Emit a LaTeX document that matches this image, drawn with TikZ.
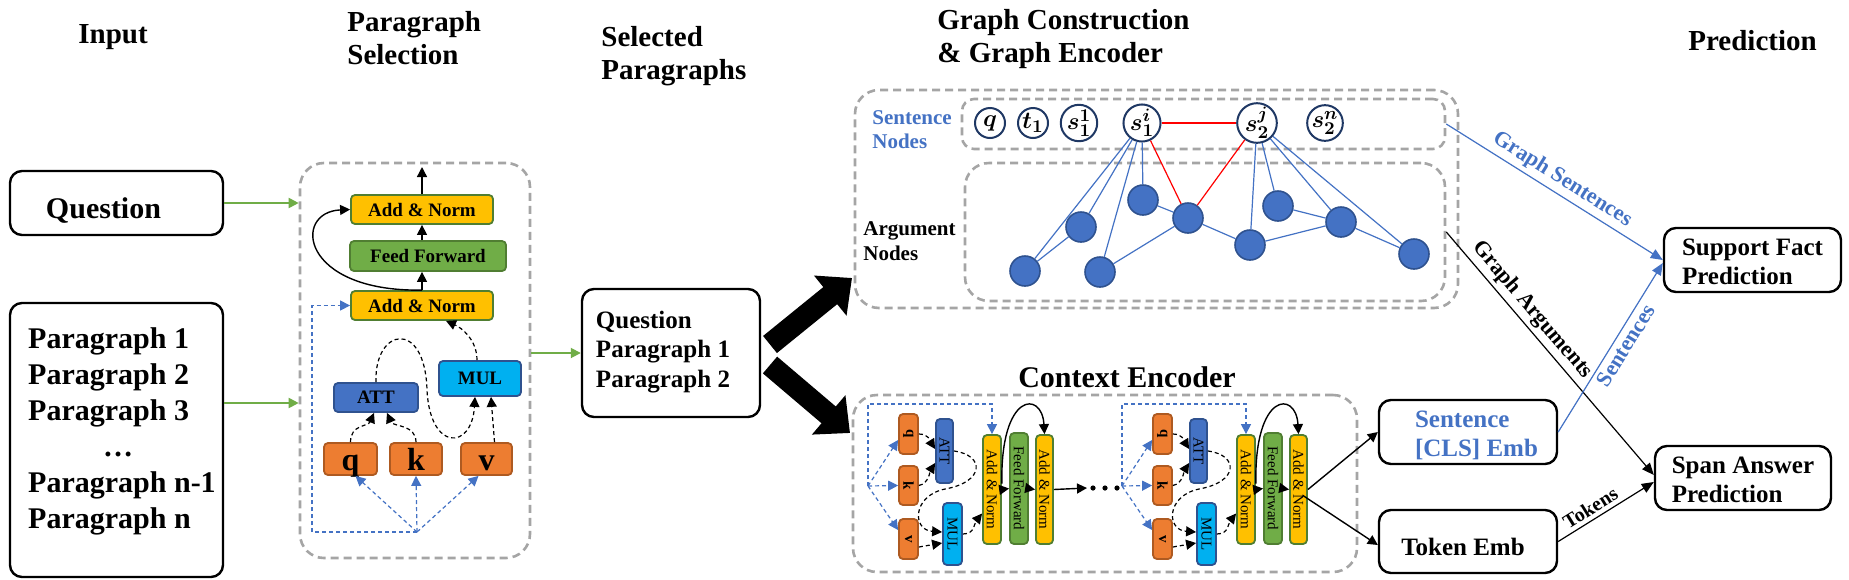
\documentclass[tikz,border=0pt]{standalone}
\usepackage{fontspec}
\setmainfont{Liberation Serif}
\usepackage{amsmath}
\usepackage{bm}
\usepackage{graphicx}
\usetikzlibrary{arrows.meta,calc}
\definecolor{anfill}{HTML}{FFC000}
\definecolor{grnb}{HTML}{507E32}
\definecolor{fffill}{HTML}{70AD47}
\definecolor{orf}{HTML}{ED7D31}
\definecolor{orb}{HTML}{AE5A21}
\definecolor{blf}{HTML}{4472C4}
\definecolor{blb}{HTML}{2F528F}
\definecolor{cyf}{HTML}{00B0F0}
\definecolor{grayd}{HTML}{A5A5A5}
\definecolor{navy}{HTML}{1F3864}
\definecolor{arrg}{HTML}{70AD47}
\newcommand\fsz[2]{\fontsize{#1}{#2}\selectfont}
\newcommand\bx[7]{%
  \pgfmathsetmacro\bxw{0.5*((#4)-(#2))}%
  \pgfmathsetmacro\bxh{0.5*((#5)-(#3))}%
  \node[inner sep=0pt, minimum width=\bxw pt, minimum height=\bxh pt, #6] (#1) at ({((#2)+(#4))/2},{((#3)+(#5))/2}) {#7};}
\newcommand\vbx[8]{\bx{#1}{#2}{#3}{#4}{#5}{#6}{}\node[rotate=-90, inner sep=0pt, #7] (#1-t) at (#1.center) {#8};}
\newcommand\lt[1]{\begin{tabular}[t]{@{}l@{}}#1\end{tabular}}
\tikzset{
  hdr/.style={font=\bfseries\fsz{14.5pt}{16.5pt}, inner sep=0pt, align=left},
  blk/.style={draw=black, line width=1.2pt, rounded corners=6pt, fill=white, font=\bfseries\fsz{15pt}{18pt}},
  blkm/.style={draw=black, line width=1.2pt, rounded corners=6pt, fill=white, font=\bfseries\fsz{12.5pt}{14.75pt}},
  gbox/.style={draw=grayd, line width=1.3pt, dash pattern=on 4pt off 2.5pt, rounded corners=12pt},
  gboxs/.style={draw=grayd, line width=1.3pt, dash pattern=on 4pt off 2.5pt, rounded corners=6pt},
  anb/.style={draw=grnb, fill=anfill, line width=0.9pt, rounded corners=2pt},
  ffb/.style={draw=grnb, fill=fffill, line width=0.9pt, rounded corners=2pt},
  qkvb/.style={draw=orb, fill=orf, line width=0.9pt, rounded corners=2pt},
  attb/.style={draw=blb, fill=blf, line width=0.9pt, rounded corners=2pt},
  mulb/.style={draw=blb, fill=cyf, line width=0.9pt, rounded corners=2pt},
  bigtxt/.style={font=\bfseries\fsz{9.5pt}{11pt}},
  qkvtxt/.style={font=\bfseries\fsz{16pt}{16pt}, text height=11pt, text depth=0pt},
  vtxt/.style={font=\fsz{7.5pt}{9pt}},
  vqkv/.style={font=\bfseries\fsz{7.5pt}{9pt}},
  ktip/.style={-{Triangle[length=5pt,width=5pt]}},
  karr/.style={draw=black, line width=0.7pt, ktip},
  kdash/.style={draw=black, line width=0.6pt, dash pattern=on 2pt off 1.5pt, ktip},
  bdash/.style={draw=blf, line width=0.6pt, dash pattern=on 2pt off 1.5pt},
  btip/.style={-{Triangle[length=5pt,width=5pt,fill=blf]}},
  garr/.style={draw=arrg, line width=0.9pt, -{Triangle[length=5pt,width=5pt]}},
  bigarr/.style={draw=black, line width=11pt, -{Triangle[length=14pt,width=25pt]}},
  snode/.style={circle, draw=navy, line width=1pt, fill=white, minimum size=15pt, inner sep=0pt, font=\fsz{13pt}{13pt}},
  anode/.style={circle, draw=blb, fill=blf, line width=0.8pt, minimum size=15pt, inner sep=0pt},
  bedge/.style={draw=blf, line width=0.6pt},
  redge/.style={draw=red, line width=0.6pt},
  lbl/.style={font=\bfseries\fsz{11pt}{12pt}, inner sep=2pt},
  outarr/.style={line width=0.6pt, -{Triangle[length=6pt,width=5pt]}},
  dotn/.style={circle, fill=black, inner sep=0pt, minimum size=2.6pt},
}
\begin{document}
\begin{tikzpicture}[x=0.5pt,y=-0.5pt]
\fill[white] (0,0) rectangle (1849,579);
\useasboundingbox (0,0) rectangle (1849,579);
% ---------- headers
\node[hdr, anchor=base west] (hinput) at (78,43) {Input};
\node[hdr, anchor=north west] (hpsel) at (347,11) {Paragraph\\Selection};
\node[hdr, anchor=north west] (hsel) at (601,26) {Selected\\Paragraphs};
\node[hdr, anchor=north west] (hgraph) at (937,9) {Graph Construction\\\& Graph Encoder};
\node[hdr, anchor=base west] (hpred) at (1688,50) {Prediction};
% ---------- input
\bx{qbox}{10}{171}{223}{235}{blk, text height=20pt, text depth=5pt}{Question\hspace*{13pt}}
\bx{pbox}{10}{303}{223}{577}{blk, text height=10pt, text depth=102pt}{\hspace*{5.5pt}\lt{Paragraph 1\\Paragraph 2\\Paragraph 3\\\hspace*{2.5em}\dots\\Paragraph n-1\\Paragraph n}}
% ---------- paragraph selection
\bx{psel}{300}{163}{530}{558}{gbox}{}
\bx{an2}{351}{195}{493}{224}{anb,bigtxt}{Add \& Norm}
\bx{ff}{350}{241}{506}{271}{ffb,bigtxt}{Feed Forward}
\bx{an1}{351}{291}{493}{320}{anb,bigtxt}{Add \& Norm}
\bx{att}{334}{383}{418}{412}{attb,bigtxt}{ATT}
\bx{mul}{439}{361}{521}{396}{mulb,bigtxt}{MUL}
\bx{q}{324}{443}{377}{475}{qkvb,qkvtxt}{q}
\bx{k}{390}{443}{442}{475}{qkvb,qkvtxt}{k}
\bx{v}{461}{443}{512}{475}{qkvb,qkvtxt}{v}
\coordinate (pout) at (422,167);
\draw[karr] (an2.north) -- (pout);
\draw[karr] (an1.north) -- (an1.north |- ff.south);
\draw[karr] (an2.south |- ff.north) -- (an2.south);
\draw[karr] (an1.north) .. controls (300,292) and (292,212) .. (an2.west);
\coordinate (hub) at (417,532);
\coordinate (hubl) at (312,532);
\draw[bdash,btip] (hub) -- (hubl) |- (an1.west);
\draw[bdash,btip] (hub) -- ([xshift=2.5pt]q.south);
\draw[bdash,btip] (hub) -- (k.south);
\draw[bdash,btip] (hub) -- ([xshift=-4pt]v.south);
\draw[kdash] (q.north) .. controls +(0,-18) and +(-6,14) .. ([xshift=-1pt]att.south);
\draw[kdash] (k.north) .. controls +(0,-18) and +(6,14) .. ([xshift=5.5pt]att.south);
\draw[kdash] ([xshift=4pt]v.north) -- ([xshift=5.5pt]mul.south);
\draw[kdash] (att.north) .. controls (374,328) and (425,318) .. (427,390) .. controls (430,452) and (472,450) .. ([xshift=-2.5pt]mul.south);
\draw[kdash] ([xshift=-1.5pt]mul.north) .. controls (477,340) and (462,328) .. ([xshift=12pt]an1.south);
% ---------- selected paragraphs
\bx{sel}{582}{289}{760}{417}{blkm, text height=10pt, text depth=35pt}{\lt{Question\\Paragraph 1\\Paragraph 2}\hspace*{8pt}}
\draw[garr] (qbox.east) -- (qbox.east -| psel.west);
\draw[garr] ([yshift=18.5pt]pbox.east) -- ([yshift=18.5pt]pbox.east -| psel.west);
\draw[garr] (psel.east |- sel.west) -- (sel.west);
\coordinate (bga) at (770,344.5);
\coordinate (bgb) at (852,278);
\coordinate (bca) at (770,365);
\coordinate (bcb) at (850,433);
\draw[bigarr] (bga) -- (bgb);
\draw[bigarr] (bca) -- (bcb);
% ---------- graph
\bx{gout}{855}{90}{1458}{308}{gbox}{}
\bx{snbox}{962}{99}{1445}{149}{gboxs}{}
\bx{argbox}{965}{163}{1445}{301}{gbox}{}
\node[anchor=north west, inner sep=0pt, align=left, text=blf, font=\bfseries\fsz{10.5pt}{12pt}] (snlab) at (872,110) {Sentence\\Nodes};
\node[anchor=north west, inner sep=0pt, align=left, font=\bfseries\fsz{10.5pt}{12.5pt}] (arglab) at (863,221) {Argument\\Nodes};
\node[snode] (sq) at (990,123) {$\bm{q}$};
\node[snode] (st) at (1033,123) {$\bm{t}_{\bm{1}}$};
\node[snode] (s11) at (1079,123) {$\bm{s}_{\bm{1}}^{\bm{1}}$};
\node[snode] (s1i) at (1142,123) {$\bm{s}_{\bm{1}}^{\bm{i}}$};
\node[snode] (s2j) at (1257,123) {$\bm{s}_{\bm{2}}^{\bm{j}}$};
\node[snode] (s2n) at (1325,123) {$\bm{s}_{\bm{2}}^{\bm{n}}$};
\node[anode] (a1) at (1025,271) {};
\node[anode] (a2) at (1081,227) {};
\node[anode] (a3) at (1100,272) {};
\node[anode] (a4) at (1143,200) {};
\node[anode] (a5) at (1188,218) {};
\node[anode] (a6) at (1250,245) {};
\node[anode] (a7) at (1278,206) {};
\node[anode] (a8) at (1341,222) {};
\node[anode] (a9) at (1414,254) {};
\foreach \t in {a1,a2,a3,a4} \draw[bedge] (s1i) -- (\t);
\foreach \t in {a6,a7,a8,a9} \draw[bedge] (s2j) -- (\t);
\draw[bedge] (a1) -- (a2);
\draw[bedge] (a3) -- (a5);
\draw[bedge] (a4) -- (a5);
\draw[bedge] (a5) -- (a6);
\draw[bedge] (a6) -- (a8);
\draw[bedge] (a7) -- (a8);
\draw[bedge] (a8) -- (a9);
\draw[redge] (s1i) -- (s2j);
\draw[redge] (s1i) -- (a5);
\draw[redge] (s2j) -- (a5);
% ---------- context encoder
\node[anchor=base, inner sep=0pt, font=\bfseries\fsz{15pt}{16pt}] (hctx) at (1127,387) {Context Encoder};
\bx{cout}{853}{395}{1357}{572}{gbox}{}
\foreach \dd/\nm in {0/a,254/b}{
  \vbx{q\nm}{899+\dd}{414}{918+\dd}{454}{qkvb}{vqkv}{q}
  \vbx{k\nm}{899+\dd}{466}{918+\dd}{505}{qkvb}{vqkv}{k}
  \vbx{v\nm}{899+\dd}{519}{918+\dd}{559}{qkvb}{vqkv}{v}
  \vbx{att\nm}{936+\dd}{419}{953+\dd}{483}{attb}{vtxt}{ATT}
  \vbx{mul\nm}{943+\dd}{503}{962+\dd}{565}{mulb}{vtxt}{MUL}
  \vbx{ana\nm}{983+\dd}{435}{1001+\dd}{544}{anb}{vtxt}{Add \& Norm}
  \vbx{ff\nm}{1010+\dd}{433}{1028+\dd}{544}{ffb}{vtxt}{Feed Forward}
  \vbx{anb\nm}{1036+\dd}{435}{1053+\dd}{544}{anb}{vtxt}{Add \& Norm}
  \coordinate (hub\nm) at (868+\dd,486);
  \coordinate (hubt\nm) at (868+\dd,404);
  \draw[bdash,btip] (hub\nm) -- ([yshift=-3pt]q\nm.west);
  \draw[bdash,btip] (hub\nm) -- (k\nm.west);
  \draw[bdash,btip] (hub\nm) -- ([yshift=4.5pt]v\nm.west);
  \draw[bdash,btip] (hub\nm) -- (hubt\nm) -| (ana\nm.north);
  \draw[kdash] (q\nm.east) .. controls +(10,0) and +(-5,-8) .. ([yshift=1pt]att\nm.west);
  \draw[kdash] (k\nm.east) .. controls +(10,-2) and +(-5,8) .. ([yshift=-6pt]att\nm.west);
  \draw[kdash] ([yshift=-4pt]v\nm.east) -- ([yshift=-4.5pt]mul\nm.west);
  \draw[kdash] (att\nm.east) .. controls (985+\dd,455) and (985+\dd,482) .. (945+\dd,489) .. controls (912+\dd,496) and (912+\dd,530) .. ([yshift=1pt]mul\nm.west);
  \draw[kdash] (mul\nm.east) .. controls +(12,0) and +(-8,10) .. ([yshift=-12pt]ana\nm.west);
  \draw[karr] (ana\nm.east) -- (ff\nm.west);
  \draw[karr] (ff\nm.east) -- (anb\nm.west);
  \draw[karr] ([yshift=3pt]ana\nm.east) .. controls (1000+\dd,392) and (1042+\dd,390) .. (anb\nm.north);
}
\coordinate (dotl) at (1087,488);
\draw[karr] (anba.east) -- (dotl);
\node[dotn] (d1) at (1093,488) {};
\node[dotn] (d2) at (1105,488) {};
\node[dotn] (d3) at (1117,488) {};
% ---------- embeddings and predictions
\bx{cls}{1379}{400}{1557}{464}{blkm, text=blf, text height=10pt, text depth=15pt}{\hspace*{8.5pt}\lt{Sentence\\{[CLS]} Emb}}
\bx{tok}{1379}{510}{1557}{573}{blkm, text height=20pt, text depth=6.5pt}{Token Emb\hspace*{5pt}}
\bx{sf}{1664}{228}{1841}{292}{blkm, text height=10pt, text depth=15pt}{\lt{Support Fact\\Prediction}}
\bx{span}{1655}{446}{1831}{510}{blkm, text height=10pt, text depth=15pt}{\lt{Span Answer\\Prediction}}
\draw[karr] (anbb.east) -- (cls.west);
\draw[karr] ([xshift=-2.5pt,yshift=-3pt]anbb.east) -- ([yshift=-1.75pt]tok.west);
\draw[outarr, draw=blf, fill=blf] (snbox.east) -- node[sloped, above, lbl, text=blf] {Graph Sentences} (sf.west);
\draw[outarr, draw=black] (argbox.east) -- node[pos=0.36, sloped, above, lbl] {Graph Arguments} ([yshift=1.5pt]span.west);
\draw[outarr, draw=blf, fill=blf] (cls.east) -- node[pos=0.55, sloped, below, lbl, text=blf] {Sentences} ([yshift=-1.5pt]sf.west);
\draw[outarr, draw=black] (tok.east) -- node[pos=0.4, sloped, above, lbl, font=\bfseries\fsz{10pt}{11pt}] {Tokens} ([yshift=-2pt]span.west);
\end{tikzpicture}
\end{document}
